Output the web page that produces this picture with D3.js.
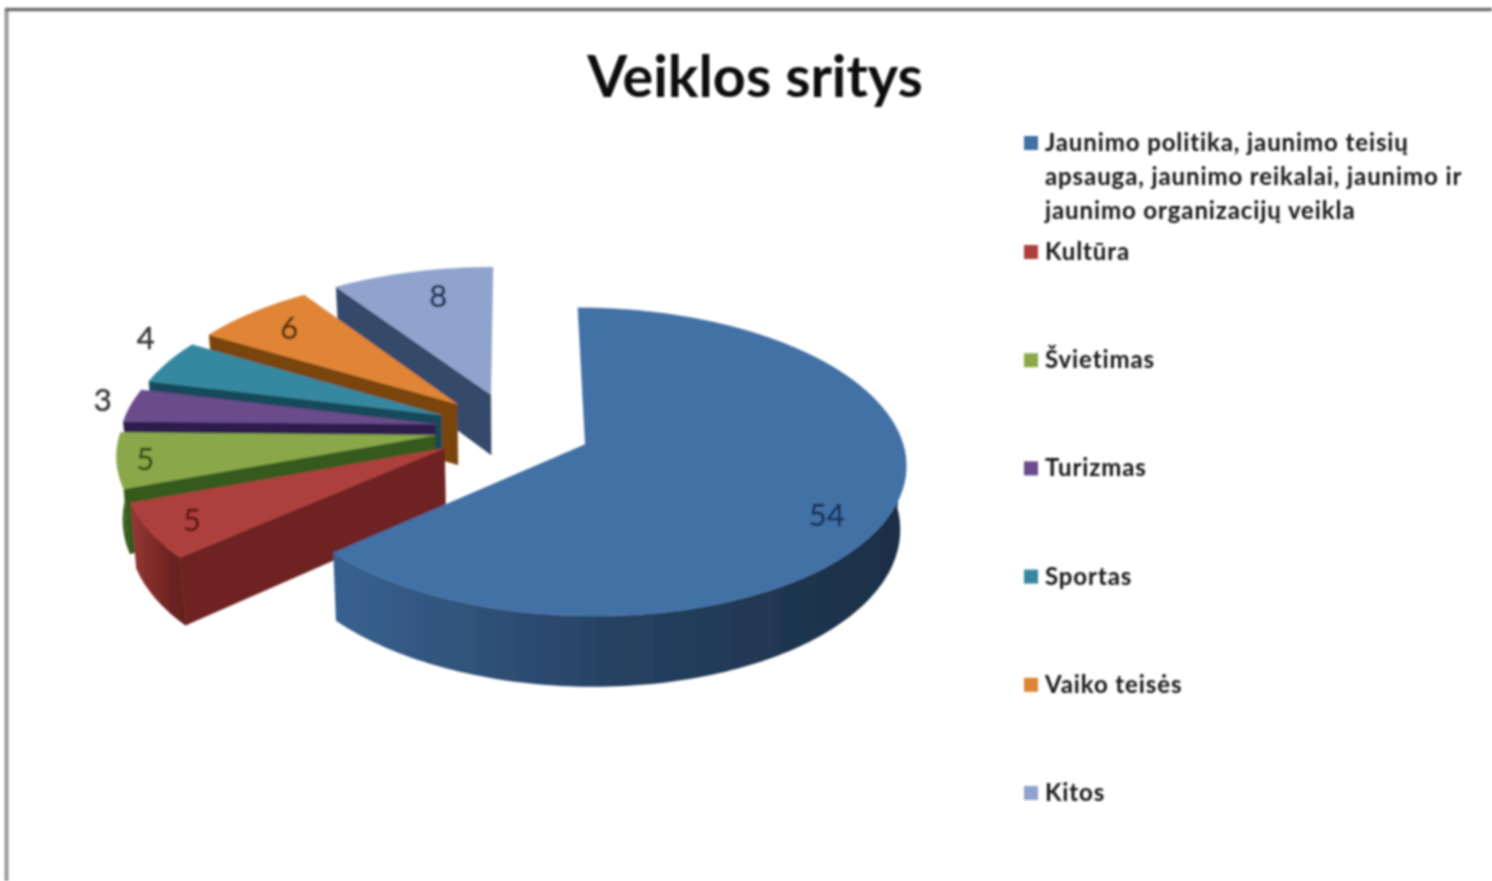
<!DOCTYPE html>
<html>
<head>
<meta charset="utf-8">
<title>Veiklos sritys</title>
<script src="https://cdn.jsdelivr.net/npm/d3@7"></script>
<style>
  html, body { margin: 0; background: #fff; }
  svg { display: block; }
  text { font-family: Lato, "Open Sans", sans-serif; }
</style>
</head>
<body>
<svg id="chart" width="1492" height="881"></svg>
<script>
/************************* Data *************************/
const TITLE = "Veiklos sritys";
const CATEGORIES = ["Jaunimo politika, jaunimo teisių apsauga, jaunimo reikalai, jaunimo ir jaunimo organizacijų veikla",
  "Kultūra", "Švietimas", "Turizmas", "Sportas", "Vaiko teisės", "Kitos"];
const VALUES = [54, 5, 5, 3, 4, 6, 8];
const COLORS = ["#4271a6", "#ad3f3e", "#8aa84a", "#6a4b8c", "#35889f", "#df8536", "#8fa3cc"];
const WALL_COLORS = ["#1f3550", "#6e2320", "#345a1e", "#2d1b4d", "#15485a", "#7a4511", "#34496a"];
const LABEL_COLORS = ["#14305a", "#5e1512", "#2f4d12", "#333", "#333", "#5a3008", "#1c2c50"];
const FIRST_LEGEND_LINES = ["Jaunimo politika, jaunimo teisių", "apsauga, jaunimo reikalai, jaunimo ir", "jaunimo organizacijų veikla"];

/************************* Layout *************************/
const CENTER = {x: 513, y: 429};
const RADIUS = {x: 314, y: 148.6};
const PERSPECTIVE = 0.112;
const EXPLODE = 0.25;
const DEPTH = 62;
const BOTTOM_SHRINK = 0.985;
const LABEL_RADIUS = [0.8, 0.85, 0.9, 1.1, 1.1, 0.75, 0.75];
const LABEL_NUDGE = [[-2, 17], [-4, 1], [-4, 0], [2, -5], [4, -20], [-12, -7], [8, -6]];

const svg = d3.select("#chart");
const defs = svg.append("defs");

// the source is a soft, upscaled screenshot
defs.append("filter").attr("id", "soft")
  .attr("x", "-5%").attr("y", "-5%").attr("width", "110%").attr("height", "110%")
  .append("feGaussianBlur").attr("stdDeviation", 0.9);

const root = svg.append("g").attr("filter", "url(#soft)");

/** Project a point of the pie plane on the screen, lifted or not */
function project(px, py, bottom) {
  const w = 1 - PERSPECTIVE * py;
  const x = RADIUS.x * px / w;
  const y = RADIUS.y * py / w;
  return bottom
    ? [CENTER.x + x * BOTTOM_SHRINK, CENTER.y + y + DEPTH / w]
    : [CENTER.x + x, CENTER.y + y];
}

/** Plane coordinates of a point of an exploded slice */
function planePoint(slice, angle, r) {
  const mid = (slice.startAngle + slice.endAngle) / 2;
  return [EXPLODE * Math.sin(mid) + r * Math.sin(angle),
         -EXPLODE * Math.cos(mid) - r * Math.cos(angle)];
}

const line = d3.line();
const pie = d3.pie().sort(null)(VALUES);

function arcAngles(slice) {
  const n = Math.ceil((slice.endAngle - slice.startAngle) / 0.02);
  return d3.range(n + 1).map(i => slice.startAngle + (slice.endAngle - slice.startAngle) * i / n);
}

/************************* Pie *************************/
// back slices first, the big blue one lands on top
const order = d3.range(pie.length).slice(1).reverse().concat(0);

order.forEach(i => {
  const slice = pie[i];
  const color = COLORS[i];
  const wall = WALL_COLORS[i];
  const group = root.append("g");
  const apex = planePoint(slice, 0, 0);
  const angles = arcAngles(slice);
  const rim = angles.map(a => planePoint(slice, a, 1));

  const grad = defs.append("linearGradient").attr("id", `rim-${i}`);
  grad.append("stop").attr("offset", 0).attr("stop-color", d3.color(color).darker(0.4));
  grad.append("stop").attr("offset", 0.5).attr("stop-color", d3.interpolateRgb(color, wall)(0.8));
  grad.append("stop").attr("offset", 1).attr("stop-color", d3.color(wall).darker(0.4));

  // Radial walls, only the ones turned to the viewer
  if (Math.sin(slice.startAngle) < -0.01) {
    const edge = rim[0];
    group.append("path")
      .attr("d", line([project(...apex), project(...edge), project(...edge, true), project(...apex, true)]) + "Z")
      .attr("fill", wall).attr("stroke", wall).attr("stroke-width", 0.6);
  }
  if (Math.sin(slice.endAngle) > 0.01) {
    const edge = rim[rim.length - 1];
    group.append("path")
      .attr("d", line([project(...apex), project(...edge), project(...edge, true), project(...apex, true)]) + "Z")
      .attr("fill", wall).attr("stroke", wall).attr("stroke-width", 0.6);
  }

  // Outer wall, front half of the circle only
  const front = angles.filter(a => Math.cos(a) < 0).map(a => planePoint(slice, a, 1));
  if (front.length > 1) {
    const bottomEdge = front.map(p => project(...p, true)).reverse();
    group.append("path")
      .attr("d", line(front.map(p => project(...p)).concat(bottomEdge)) + "Z")
      .attr("fill", `url(#rim-${i})`);
  }

  // Top face
  const topEdge = rim.map(p => project(...p));
  group.append("path")
    .attr("d", line([project(...apex)].concat(topEdge)) + "Z")
    .attr("fill", color).attr("stroke", color).attr("stroke-width", 0.6);
});

// Value labels
root.append("g").selectAll("text").data(pie).join("text")
  .attr("x", (d, i) => project(...planePoint(d, (d.startAngle + d.endAngle) / 2, LABEL_RADIUS[i]))[0] + LABEL_NUDGE[i][0])
  .attr("y", (d, i) => project(...planePoint(d, (d.startAngle + d.endAngle) / 2, LABEL_RADIUS[i]))[1] + LABEL_NUDGE[i][1])
  .attr("text-anchor", "middle")
  .attr("dominant-baseline", "central")
  .attr("font-size", 31)
  .attr("fill", (d, i) => LABEL_COLORS[i])
  .attr("stroke", (d, i) => LABEL_COLORS[i])
  .attr("stroke-width", 0.4)
  .text(d => d.value);

/************************* Title, legend, frame *************************/
root.append("text")
  .attr("x", 755).attr("y", 97)
  .attr("text-anchor", "middle")
  .attr("font-size", 57.5).attr("font-weight", 700)
  .attr("fill", "#0c0c0c")
  .text(TITLE);

const legendY = d3.scalePoint().domain(CATEGORIES.slice(1)).range([251, 792]);
const legend = root.append("g")
  .attr("font-size", 24).attr("font-weight", 700)
  .attr("letter-spacing", 0.9)
  .attr("fill", "#161616");

legend.append("rect")
  .attr("x", 1024).attr("y", 136).attr("width", 14).attr("height", 14)
  .attr("fill", COLORS[0]);
legend.selectAll("text.first").data(FIRST_LEGEND_LINES).join("text")
  .attr("class", "first")
  .attr("x", 1045)
  .attr("y", (d, i) => 151 + i * 34)
  .text(d => d);

const rows = legend.selectAll("g.row").data(CATEGORIES.slice(1)).join("g")
  .attr("class", "row")
  .attr("transform", d => `translate(1024,${legendY(d)})`);
rows.append("rect")
  .attr("y", -6).attr("width", 14).attr("height", 14)
  .attr("fill", (d, i) => COLORS[i + 1]);
rows.append("text")
  .attr("x", 21).attr("y", 9)
  .text(d => d);

// Screenshot frame
root.append("path").attr("d", "M6.5,881V9").attr("fill", "none").attr("stroke", "#999").attr("stroke-width", 4);
root.append("path").attr("d", "M5,9.5H1492").attr("fill", "none").attr("stroke", "#6e6e6e").attr("stroke-width", 3.5);
</script>
</body>
</html>
